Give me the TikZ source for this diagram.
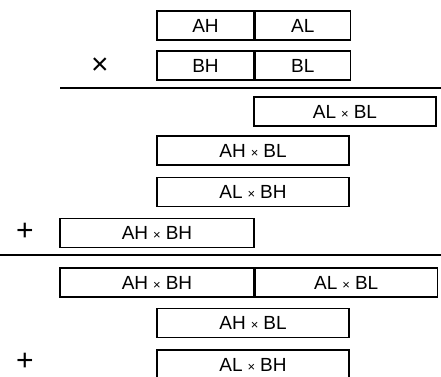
\documentclass[tikz,border=0pt]{standalone}
\usepackage{fontspec}
\setmainfont{Liberation Sans}
\usetikzlibrary{positioning}
\newcommand{\mul}{\hspace{5pt}{\fontsize{13}{13}\selectfont ×}\hspace{5pt}}
\begin{document}
\begin{tikzpicture}[
  x=1pt, y=-1pt,
  cell/.style={rectangle, draw, line width=1.2pt, minimum height=29pt, inner sep=0pt},
  half/.style={cell, minimum width=97pt},
  word/.style={cell, minimum width=192pt},
  sign/.style={font=\fontsize{30}{30}\selectfont, inner sep=0pt},
  rule/.style={line width=1.4pt},
  font=\fontsize{19}{22}\selectfont
]
\useasboundingbox (0,0) rectangle (441,376);

% operands
\node[half] (ah) at (205.5,25.5) {AH};
\node[half, minimum width=95pt, right=0pt of ah] (al) {AL};
\node[half] (bh) at (205.5,65.5) {BH};
\node[half, minimum width=95pt, right=0pt of bh] (bl) {BL};
\node[sign] (times) at (100,66) {×};
\draw[rule] (60,88) -- (441,88);

% partial products
\node[cell, minimum width=182pt] (albl) at (345,111.5) {AL\mul BL};
\node[word] (ahbl) at (253,150.5) {AH\mul BL};
\node[word] (albh) at (253,192) {AL\mul BH};
\node[cell, minimum width=194pt] (ahbh) at (157,233) {AH\mul BH};
\node[sign] (plus) at (25,232) {+};
\draw[rule] (0,255) -- (441,255);

% rearranged sum
\node[cell, minimum width=194pt] (hi) at (157,282.5) {AH\mul BH};
\node[cell, minimum width=182pt, right=0pt of hi] (lo) {AL\mul BL};
\node[word] (ahbl2) at (253,323) {AH\mul BL};
\node[word] (albh2) at (253,364.5) {AL\mul BH};
\node[sign] (plus2) at (25,362) {+};
\end{tikzpicture}
\end{document}
